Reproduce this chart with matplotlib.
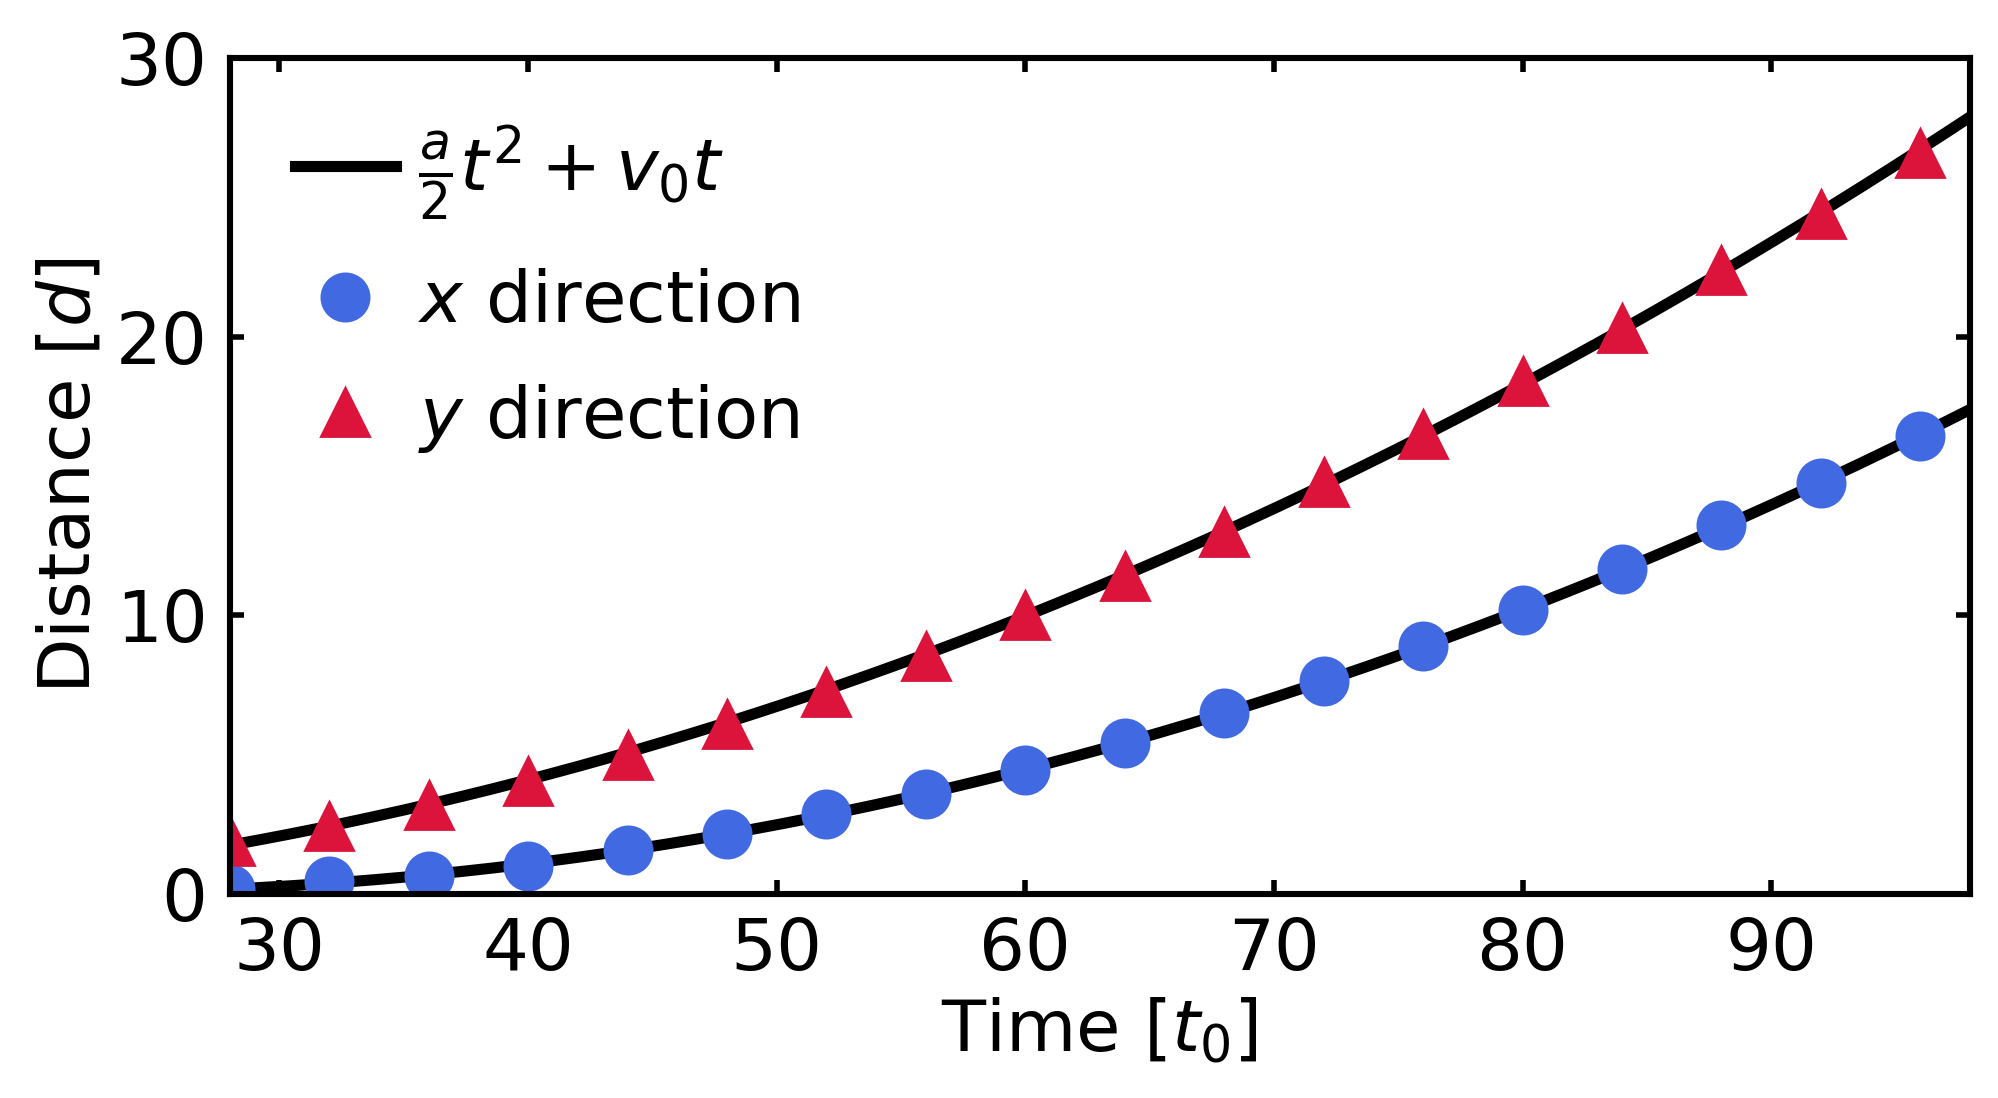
import numpy as np
import matplotlib.pyplot as plt

# data
t = np.arange(28, 97, 4)
x_dist = [0.18, 0.46, 0.64, 1.0, 1.56, 2.16, 2.85, 3.58, 4.46, 5.42,
          6.48, 7.63, 8.91, 10.2, 11.67, 13.23, 14.75, 16.45]
y_dist = [1.88, 2.43, 3.2, 4.04, 5.0, 6.1, 7.26, 8.54, 10.0, 11.4,
          13.0, 14.8, 16.5, 18.4, 20.3, 22.4, 24.4, 26.6]

# quadratic fit of the measured points
t_fit = np.linspace(28, 98, 300)
px = np.polyfit(t, x_dist, 2)
py = np.polyfit(t, y_dist, 2)

plt.rcParams['font.size'] = 26
plt.rcParams['mathtext.fontset'] = 'dejavusans'

fig = plt.figure(figsize=(9.99, 5.49), dpi=200)
ax = fig.add_axes([0.115, 0.186, 0.871, 0.761])

ax.plot(t_fit, np.polyval(px, t_fit), color='black', lw=4, label=r'$\frac{a}{2}t^2 + v_0t$')
ax.plot(t_fit, np.polyval(py, t_fit), color='black', lw=4)
ax.plot(t, x_dist, 'o', color='royalblue', ms=17, ls='none', label=r'$x$ direction')
ax.plot(t, y_dist, '^', color='crimson', ms=17, ls='none', label=r'$y$ direction')

ax.set_xlim(28, 98)
ax.set_ylim(0, 30)
ax.set_xticks([30, 40, 50, 60, 70, 80, 90])
ax.set_yticks([0, 10, 20, 30])
ax.tick_params(direction='in', top=True, right=True, length=5, width=2, pad=8)
for s in ax.spines.values():
    s.set_linewidth(2.2)

ax.set_xlabel(r'Time [$t_0$]')
ax.set_ylabel(r'Distance [$d$]')
ax.legend(loc='upper left', frameon=False, handlelength=1.4, handletextpad=0.3,
          labelspacing=0.62)

fig.savefig('out.png', dpi=200)
